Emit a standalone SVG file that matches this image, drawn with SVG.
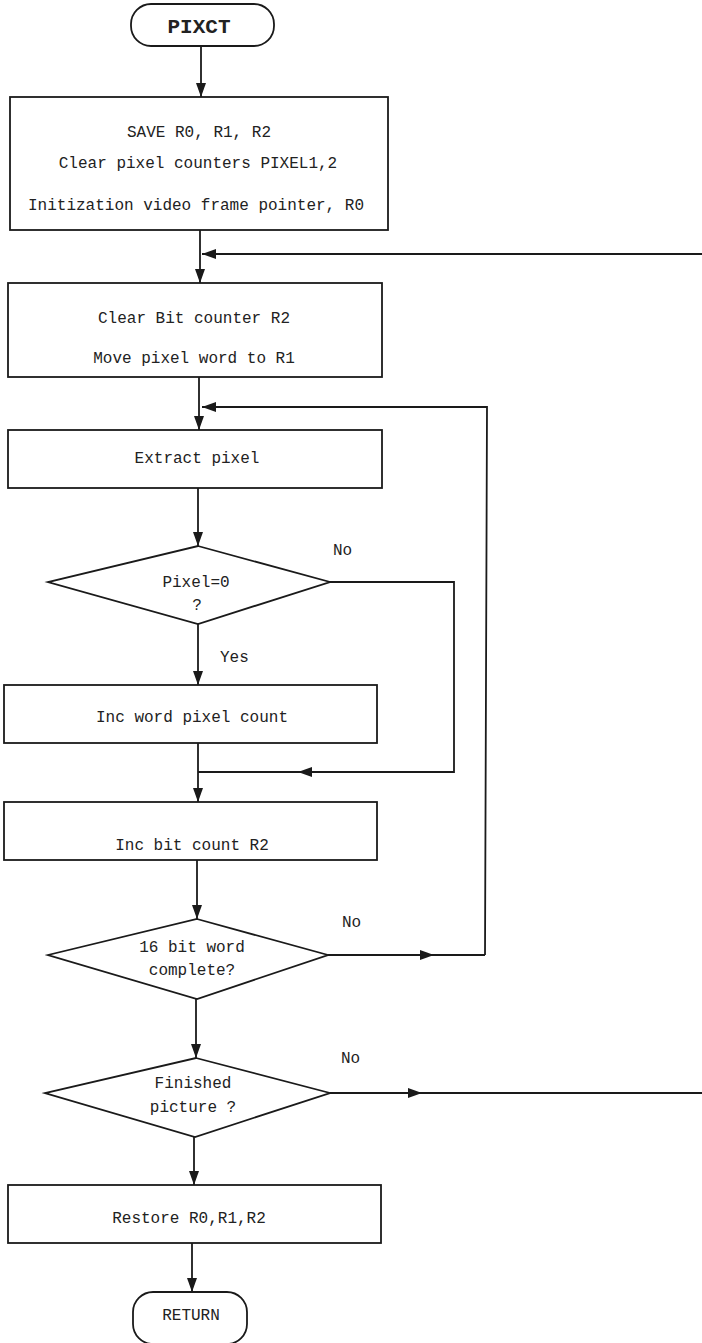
<svg xmlns="http://www.w3.org/2000/svg" width="702" height="1343" viewBox="0 0 702 1343">
  <style>
    .shape { fill: #fff; stroke: #1a1a1a; stroke-width: 1.8; }
    .line { fill: none; stroke: #1a1a1a; stroke-width: 1.8; }
    .txt { font-family: "Liberation Mono", "DejaVu Sans Mono", monospace; font-size: 16px; fill: #222; text-anchor: middle; }
    .lbl { font-family: "Liberation Mono", "DejaVu Sans Mono", monospace; font-size: 16px; fill: #222; }
    .title { font-weight: bold; font-size: 21px; }
  </style>
  <defs>
    <marker id="arrow" viewBox="0 0 14 10" refX="14" refY="5" markerWidth="14" markerHeight="10" markerUnits="userSpaceOnUse" orient="auto">
      <path d="M0,0 L14,5 L0,10 Z" fill="#1a1a1a"/>
    </marker>
  </defs>

  <rect width="702" height="1343" fill="#fff"/>

  <!-- connectors -->
  <g id="connectors">
    <line class="line" x1="201" y1="46" x2="201" y2="97" marker-end="url(#arrow)"/>
    <line class="line" x1="200" y1="230" x2="200" y2="283" marker-end="url(#arrow)"/>
    <line class="line" x1="702" y1="254" x2="202" y2="254" marker-end="url(#arrow)"/>
    <line class="line" x1="199" y1="377" x2="199" y2="430" marker-end="url(#arrow)"/>
    <polyline class="line" points="485,955 487,407 202,407" marker-end="url(#arrow)"/>
    <line class="line" x1="198" y1="488" x2="198" y2="546" marker-end="url(#arrow)"/>
    <line class="line" x1="198" y1="624" x2="198" y2="685" marker-end="url(#arrow)"/>
    <polyline class="line" points="330,582 454,582 454,772 298,772" marker-end="url(#arrow)"/>
    <line class="line" x1="300" y1="772" x2="198" y2="772"/>
    <line class="line" x1="198" y1="743" x2="198" y2="802" marker-end="url(#arrow)"/>
    <line class="line" x1="197" y1="860" x2="197" y2="919" marker-end="url(#arrow)"/>
    <line class="line" x1="328" y1="955" x2="434" y2="955" marker-end="url(#arrow)"/>
    <line class="line" x1="432" y1="955" x2="485" y2="955"/>
    <line class="line" x1="196" y1="999" x2="196" y2="1058" marker-end="url(#arrow)"/>
    <line class="line" x1="330" y1="1093" x2="422" y2="1093" marker-end="url(#arrow)"/>
    <line class="line" x1="420" y1="1093" x2="702" y2="1093"/>
    <line class="line" x1="194" y1="1137" x2="194" y2="1185" marker-end="url(#arrow)"/>
    <line class="line" x1="192" y1="1243" x2="192" y2="1292" marker-end="url(#arrow)"/>
  </g>

  <g id="start">
    <rect class="shape" x="131" y="4" width="143" height="42" rx="20" ry="20"/>
    <text class="txt title" x="199" y="33">PIXCT</text>
  </g>

  <g id="init">
    <rect class="shape" x="10" y="97" width="378" height="133"/>
    <text class="txt" x="199" y="137">SAVE R0, R1, R2</text>
    <text class="txt" x="198" y="168">Clear pixel counters PIXEL1,2</text>
    <text class="txt" x="196" y="210">Initization video frame pointer, R0</text>
  </g>

  <g id="load-word">
    <rect class="shape" x="8" y="283" width="374" height="94"/>
    <text class="txt" x="194" y="323">Clear Bit counter R2</text>
    <text class="txt" x="194" y="363">Move pixel word to R1</text>
  </g>

  <g id="extract">
    <rect class="shape" x="8" y="430" width="374" height="58"/>
    <text class="txt" x="197" y="463">Extract pixel</text>
  </g>

  <g id="test-pixel">
    <polygon class="shape" points="198,546 330,582 198,624 48,582"/>
    <text class="txt" x="196" y="587">Pixel=0</text>
    <text class="txt" x="197" y="610">?</text>
    <text class="lbl" x="333" y="555">No</text>
    <text class="lbl" x="220" y="662">Yes</text>
  </g>

  <g id="inc-pixel">
    <rect class="shape" x="4" y="685" width="373" height="58"/>
    <text class="txt" x="192" y="722">Inc word pixel count</text>
  </g>

  <g id="inc-bit">
    <rect class="shape" x="4" y="802" width="373" height="58"/>
    <text class="txt" x="192" y="850">Inc bit count R2</text>
  </g>

  <g id="test-word">
    <polygon class="shape" points="197,919 328,955 197,999 48,955"/>
    <text class="txt" x="192" y="952">16 bit word</text>
    <text class="txt" x="192" y="975">complete?</text>
    <text class="lbl" x="342" y="927">No</text>
  </g>

  <g id="test-picture">
    <polygon class="shape" points="196,1058 330,1093 195,1137 45,1093"/>
    <text class="txt" x="193" y="1088">Finished</text>
    <text class="txt" x="193" y="1112">picture ?</text>
    <text class="lbl" x="341" y="1063">No</text>
  </g>

  <g id="restore">
    <rect class="shape" x="8" y="1185" width="373" height="58"/>
    <text class="txt" x="189" y="1223">Restore R0,R1,R2</text>
  </g>

  <g id="end">
    <rect class="shape" x="133" y="1292" width="114" height="52" rx="20" ry="20"/>
    <text class="txt" x="191" y="1320">RETURN</text>
  </g>
</svg>
